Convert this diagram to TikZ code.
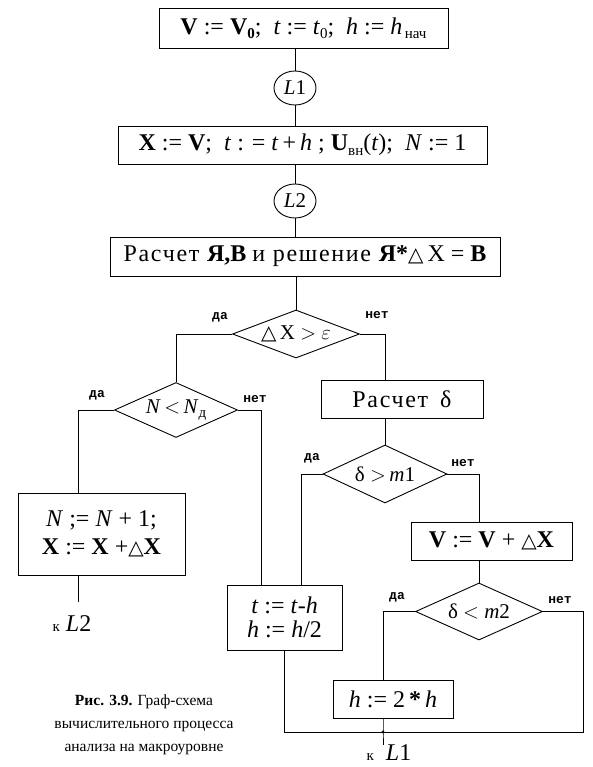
\documentclass[tikz,border=0pt]{standalone}
\usepackage{fontspec}
\setmainfont{Liberation Serif}
\newfontfamily\symf{DejaVu Sans}
\newfontfamily\rasp[LetterSpace=7]{Liberation Serif}
\newfontfamily\yesno{Liberation Mono}
\usetikzlibrary{shapes.geometric}
\newcommand\lowr[1]{\raisebox{-0.4ex}{\fontsize{15}{15}\selectfont #1}}
\newcommand\tri{{\symf\fontsize{20}{20}\selectfont △}}
\begin{document}
\begin{tikzpicture}[x=1pt,y=-1pt,
  line width=0.9pt,
  every node/.style={font=\fontsize{24}{28}\selectfont},
  blk/.style={draw, rectangle, inner sep=0pt},
  conn/.style={draw, ellipse, minimum width=42pt, minimum height=34pt, inner sep=0pt, font=\fontsize{21}{21}\selectfont},
  dec/.style={draw, diamond, inner sep=0pt},
  dl/.style={font=\fontsize{21}{21}\selectfont},
  yn/.style={font=\yesno\bfseries\fontsize{13}{13}\selectfont, inner sep=0pt},
  lnk/.style={inner sep=0pt},
  capt/.style={font=\fontsize{15.5}{23}\selectfont, align=center, inner sep=0pt}]
\useasboundingbox (0,0) rectangle (592,767);

% top chain
\node[blk, minimum width=289pt, minimum height=40pt] (b1) at (303.5,28)
  {\textbf{V} := \textbf{V}\lowr{\textbf{0}};\ \ \textit{t} := \textit{t}\lowr{0};\ \ \textit{h} := \textit{h}\lowr{\,нач}};
\node[conn] (L1) at (295,88) {\textit{L}1};
\node[blk, minimum width=369pt, minimum height=38pt] (b2) at (302.5,145)
  {\textbf{X} := \textbf{V};\ \ \textit{t} : = \textit{t}\,+\,\textit{h} ; \textbf{U}\lowr{вн}(\textit{t});\ \ \textit{N} := 1};
\node[conn] (L2) at (295,201) {\textit{L}2};
\node[blk, minimum width=390pt, minimum height=39pt] (b3) at (305,256.5)
  {{\rasp Расчет} \textbf{Я,B} {\rasp и решение} \textbf{Я*}\tri\,X = \textbf{B}};

% decisions and boxes
\node[dec, minimum width=127pt, minimum height=48pt,
  label={[dl]center:\tri\,X $>$ $\varepsilon$}] (d1) at (296,334) {};
\node[dec, minimum width=123pt, minimum height=55pt,
  label={[dl]center:\textit{N}\,$<$\,\textit{N}\lowr{д}}] (d2) at (176,410) {};
\node[blk, minimum width=162pt, minimum height=38pt] (calc) at (402,399) {{\rasp Расчет}\ \ δ};
\node[dec, minimum width=124pt, minimum height=58pt,
  label={[dl]center:δ $>$\,\textit{m}1}] (d3) at (385,474) {};
\node[blk, minimum width=161pt, minimum height=38pt] (vb) at (491.5,541)
  {\textbf{V} := \textbf{V} + \tri\textbf{X}};
\node[dec, minimum width=127pt, minimum height=57pt,
  label={[dl]center:δ $<$ \textit{m}2}] (d4) at (479,611.5) {};
\node[blk, minimum width=120pt, minimum height=38pt] (hb) at (393,699)
  {\textit{h} := 2\,\textbf{*}\,\textit{h}};
\node[blk, minimum width=115pt, minimum height=65pt, align=center] (tb) at (284.5,617.5)
  {\textit{t} := \textit{t}-\textit{h}\\[-4pt] \textit{h} := \textit{h}/2};
\node[blk, minimum width=167pt, minimum height=82pt, align=center] (nb) at (101.5,534)
  {\textit{N} ;= \textit{N} + 1;\\[0pt] \textbf{X} := \textbf{X} +\tri\textbf{X}};

% yes / no labels
\node[yn] (y1) at (220,317) {да};
\node[yn] (n1) at (377,315) {нет};
\node[yn] (y2) at (97,395) {да};
\node[yn] (n2) at (255,399) {нет};
\node[yn] (y3) at (312,458) {да};
\node[yn] (n3) at (463,463) {нет};
\node[yn] (y4) at (397,597) {да};
\node[yn] (n4) at (560,600) {нет};

% free ends
\coordinate (eL2) at (78,602);
\coordinate (jn) at (383,732);
\coordinate (rc) at (583,732);
\coordinate (eL1) at (383,745);
\node[lnk] (kL2) at (72,624) {{\fontsize{15}{15}\selectfont к} \textit{L}2};
\node[lnk] (kL1) at (389,753) {{\fontsize{15}{15}\selectfont к}\ \ \textit{L}1};

% caption
\node[capt] (cap) at (144,725)
  {\textbf{Рис. 3.9.} Граф-схема\\вычислительного процесса\\анализа на макроуровне};

% connectors
\draw (b1.south -| L1) -- (L1.north);
\draw (L1.south) -- (L1 |- b2.north);
\draw (L1 |- b2.south) -- (L2.north);
\draw (L2.south) -- (L2 |- b3.north);
\draw (d1.north |- b3.south) -- (d1.north);
\draw (d1.west) -| (d2.north);
\draw (d1.east) -| (d3 |- calc.north);
\draw (d3 |- calc.south) -- (d3.north);
\draw (d2.west) -| (eL2 |- nb.north);
\draw (eL2 |- nb.south) -- (eL2);
\draw (d2.east) -| ([xshift=-23.5pt]tb.north);
\draw (d3.west) -| ([xshift=16.5pt]tb.north);
\draw (d3.east) -| (d4 |- vb.north);
\draw (d4 |- vb.south) -- (d4.north);
\draw (d4.west) -| (jn |- hb.north);
\draw (d4.east) -| (rc) -- (jn);
\draw (tb.south) -- (tb.south |- jn) -- (jn);
\draw (jn |- hb.south) -- (jn) -- (eL1);
\fill (jn) circle (1.6pt);
\end{tikzpicture}
\end{document}
